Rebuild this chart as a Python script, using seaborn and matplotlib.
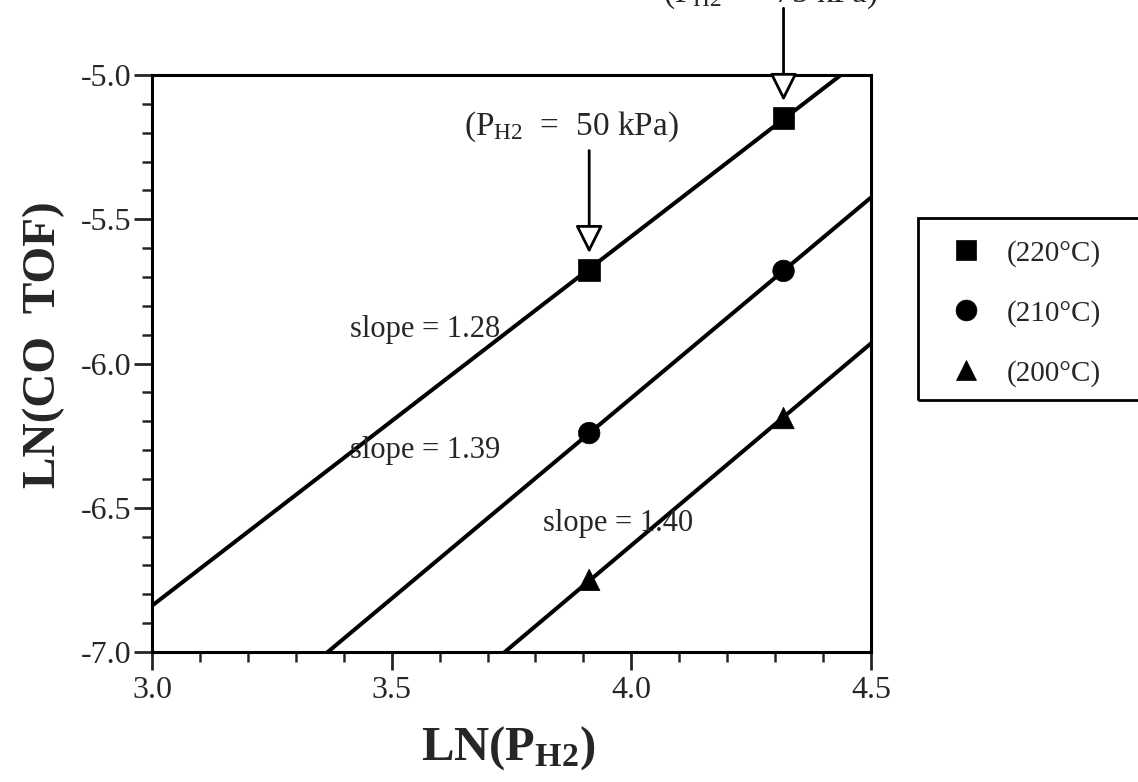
import numpy as np
import pandas as pd
import matplotlib
matplotlib.use('Agg')
import matplotlib.pyplot as plt
import seaborn as sns
from matplotlib.ticker import MultipleLocator
from matplotlib.patches import Rectangle

# datos
presion = [50, 75]                      # kPa
temperaturas = ['(220°C)', '(210°C)', '(200°C)']
ln_tof_220 = [-5.676, -5.149]
ln_tof_210 = [-6.241, -5.679]
ln_tof_200 = [-6.750, -6.189]
pendientes = [1.28, 1.39, 1.40]
etiquetas_pend = ['slope = 1.28', 'slope = 1.39', 'slope = 1.40']
pos_pend = [(3.413, -5.908), (3.413, -6.328), (3.816, -6.58)]
marcadores = ['s', 'o', '^']

sns.set_style('ticks')
plt.rcParams['font.family'] = ['Liberation Serif', 'DejaVu Serif']
plt.rcParams['mathtext.fontset'] = 'custom'
plt.rcParams['mathtext.rm'] = 'Liberation Serif'
plt.rcParams['mathtext.it'] = 'Liberation Serif:italic'
plt.rcParams['mathtext.bf'] = 'Liberation Serif:bold'
plt.rcParams['axes.unicode_minus'] = False

ln_p = np.log(presion)
series = [ln_tof_220, ln_tof_210, ln_tof_200]

df = pd.concat([
    pd.DataFrame({'ln_p': ln_p, 'ln_tof': y, 'T': t})
    for y, t in zip(series, temperaturas)
])

# rectas con la pendiente indicada, pasando por el punto medio
filas = []
for y, t, m in zip(series, temperaturas, pendientes):
    xm, ym = np.mean(ln_p), np.mean(y)
    for xx in [2.9, 4.6]:
        filas.append({'ln_p': xx, 'ln_tof': ym + m * (xx - xm), 'T': t})
df_lineas = pd.DataFrame(filas)

negro = {t: 'black' for t in temperaturas}

fig = plt.figure(figsize=(11.38, 7.82), dpi=100)
ax = fig.add_axes([0.1336, 0.1662, 0.6318, 0.7379])

sns.lineplot(data=df_lineas, x='ln_p', y='ln_tof', hue='T', palette=negro,
             linewidth=2.9, legend=False, ax=ax)
sns.scatterplot(data=df, x='ln_p', y='ln_tof', hue='T', style='T',
                markers=dict(zip(temperaturas, marcadores)), palette=negro,
                s=240, edgecolor='black', linewidth=0.5, ax=ax, zorder=3)

ax.set_xlim(3.0, 4.5)
ax.set_ylim(-7.0, -5.0)
ax.set_xticks([3.0, 3.5, 4.0, 4.5])
ax.set_xticklabels(['3.0', '3.5', '4.0', '4.5'])
ax.set_yticks([-7.0, -6.5, -6.0, -5.5, -5.0])
ax.set_yticklabels(['-7.0', '-6.5', '-6.0', '-5.5', '-5.0'])
ax.xaxis.set_minor_locator(MultipleLocator(0.1))
ax.yaxis.set_minor_locator(MultipleLocator(0.1))
ax.tick_params(which='major', direction='out', length=13, width=2, labelsize=23)
ax.tick_params(axis='x', which='major', pad=4)
ax.tick_params(axis='y', which='major', pad=2)
ax.tick_params(which='minor', direction='out', length=7, width=1.8)
for sp in ax.spines.values():
    sp.set_visible(True)
    sp.set_linewidth(2.2)
    sp.set_color('black')

ax.set_xlabel(r'LN(P$_{\mathbf{H2}}$)', fontsize=35, fontweight='bold')
ax.set_ylabel('LN(CO  TOF)', fontsize=34, fontweight='bold')
ax.xaxis.set_label_coords(0.495, -0.125)
ax.yaxis.set_label_coords(-0.121, 0.532)

# pendientes
for (x, y), txt in zip(pos_pend, etiquetas_pend):
    ax.text(x, y, txt, fontsize=22, ha='left', va='baseline')

# flechas de presion
ax.text(3.876, -5.208, r'(P$_{\rm H2}$  =  50 kPa)', fontsize=24,
        ha='center', va='baseline', clip_on=False)
ax.text(4.291, -4.747, r'(P$_{\rm H2}$  =  75 kPa)', fontsize=24,
        ha='center', va='baseline', clip_on=False)
flecha = dict(arrowstyle='-|>,head_length=1.0,head_width=0.5', mutation_scale=17,
              fc='white', ec='black', lw=2, shrinkA=0, shrinkB=12.2)
ax.annotate('', xy=(ln_p[0], ln_tof_220[0]), xytext=(0, 86),
            textcoords='offset points', arrowprops=flecha)
ax.annotate('', xy=(ln_p[1], ln_tof_220[1]), xytext=(0, 79),
            textcoords='offset points', arrowprops=flecha, annotation_clip=False)

# leyenda
leg = ax.legend(loc='upper left', bbox_to_anchor=(918 / 1138, 1 - 218 / 782),
                bbox_transform=fig.transFigure, frameon=False, fontsize=21,
                handlelength=1.78, handletextpad=0.53, borderpad=0.75,
                borderaxespad=0, labelspacing=1.13)
for h in leg.legend_handles:
    h.set_markersize(15)
fig.patches.append(Rectangle((918 / 1138, 1 - 400 / 782), 0.3, (400 - 218) / 782,
                             transform=fig.transFigure, fill=False,
                             edgecolor='black', linewidth=2))

plt.savefig('out.png', dpi=100)
